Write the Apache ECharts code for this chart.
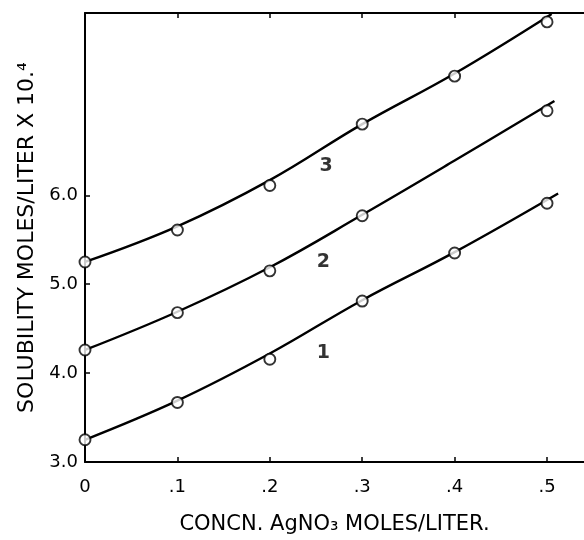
<!DOCTYPE html>
<html><head><meta charset="utf-8">
<script src="https://cdn.jsdelivr.net/npm/echarts@6/dist/echarts.min.js"></script>
<style>html,body{margin:0;padding:0;background:#fff}#c{width:584px;height:540px}</style>
</head><body><div id="c"></div>
<script>
// measured points (open circles)
const pointX = [0, 0.1, 0.2, 0.3, 0.4, 0.5];
const series1Y = [3.25, 3.67, 4.155, 4.81, 5.35, 5.91];
const series2X = [0, 0.1, 0.2, 0.3, 0.5];
const series2Y = [4.26, 4.68, 5.15, 5.77, 6.95];
const series3Y = [5.25, 5.61, 6.11, 6.80, 7.34, 7.95];
// smooth fitted curves
const curve1X = [0, 0.1, 0.2, 0.3, 0.4, 0.512];
const curve1Y = [3.25, 3.69, 4.22, 4.82, 5.36, 6.02];
const curve2X = [0, 0.1, 0.2, 0.3, 0.4, 0.508];
const curve2Y = [4.26, 4.69, 5.19, 5.78, 6.39, 7.06];
const curve3X = [0, 0.1, 0.2, 0.3, 0.4, 0.505];
const curve3Y = [5.25, 5.65, 6.17, 6.80, 7.37, 8.04];
// curve numbers
const curveNames = ['1', '2', '3'];
const curveNameX = [0.258, 0.258, 0.261];
const curveNameY = [4.23, 5.25, 6.33];
// ticks
const xTickValues = [0, 0.1, 0.2, 0.3, 0.4, 0.5];
const xTickLabels = ['0', '.1', '.2', '.3', '.4', '.5'];
const yTickValues = [3, 4, 5, 6];
const yTickLabels = ['3.0', '4.0', '5.0', '6.0'];
const xTitle = 'CONCN. AgNO\u2083 MOLES/LITER.';
const yTitle = 'SOLUBILITY MOLES/LITER X 10.\u2074';

const zip = (xs, ys) => xs.map((x, i) => [x, ys[i]]);
const FONT = 'DejaVu Sans';
const lbl = (v, vals, labs) => { const i = vals.findIndex(t => Math.abs(t - v) < 1e-6); return i < 0 ? '' : labs[i]; };

const chart = echarts.init(document.getElementById('c'), null, {renderer: 'canvas'});
const lineStyle = {color: '#000', width: 2.4};
const curve = (xs, ys) => ({type: 'line', data: zip(xs, ys), smooth: 0.4, showSymbol: false, lineStyle, silent: true, z: 2});
const pts = (xs, ys) => ({type: 'scatter', data: zip(xs, ys), symbol: 'circle', symbolSize: 11,
  itemStyle: {color: '#fff', borderColor: '#000', borderWidth: 1.9}, z: 3});

chart.setOption({
  animation: false,
  backgroundColor: '#fff',
  grid: {left: 85, right: 0, top: 13, bottom: 63, containLabel: false},
  xAxis: [{
    type: 'value', min: 0, max: 0.54, interval: 0.1,
    name: xTitle, nameLocation: 'middle', nameGap: 52,
    nameTextStyle: {fontFamily: FONT, fontSize: 21, color: '#000'},
    axisLine: {show: true, lineStyle: {color: '#000', width: 2}},
    axisTick: {show: true, inside: true, length: 5, customValues: xTickValues.slice(1), lineStyle: {color: '#000', width: 1.5}},
    axisLabel: {customValues: xTickValues, formatter: v => lbl(v, xTickValues, xTickLabels), margin: 16,
      fontFamily: FONT, fontSize: 18, color: '#000'},
    splitLine: {show: false}
  }, {
    type: 'value', position: 'top', min: 0, max: 0.54, interval: 0.1,
    axisLine: {show: true, onZero: false, lineStyle: {color: '#000', width: 2}},
    axisTick: {show: true, inside: true, length: 5, customValues: xTickValues.slice(1, 5), lineStyle: {color: '#000', width: 1.5}},
    axisLabel: {show: false}, splitLine: {show: false}
  }],
  yAxis: {
    type: 'value', min: 3, max: 8.05, interval: 1,
    name: yTitle, nameLocation: 'middle', nameGap: 42,
    nameTextStyle: {fontFamily: FONT, fontSize: 22, color: '#000'},
    axisLine: {show: true, lineStyle: {color: '#000', width: 2}},
    axisTick: {show: true, inside: true, length: 5, customValues: yTickValues.slice(1), lineStyle: {color: '#000', width: 1.5}},
    axisLabel: {customValues: yTickValues, formatter: v => lbl(v, yTickValues, yTickLabels), margin: 7,
      fontFamily: FONT, fontSize: 18, color: '#000'},
    splitLine: {show: false}
  },
  series: [
    curve(curve1X, curve1Y), curve(curve2X, curve2Y), curve(curve3X, curve3Y),
    pts(pointX, series1Y), pts(series2X, series2Y), pts(pointX, series3Y),
    {type: 'scatter', symbolSize: 0, data: zip(curveNameX, curveNameY).map((d, i) => ({value: d, name: curveNames[i]})),
      label: {show: true, position: 'inside', formatter: p => p.name, fontFamily: FONT, fontSize: 19, fontWeight: 'bold', color: '#000'}}
  ]
});
</script></body></html>
